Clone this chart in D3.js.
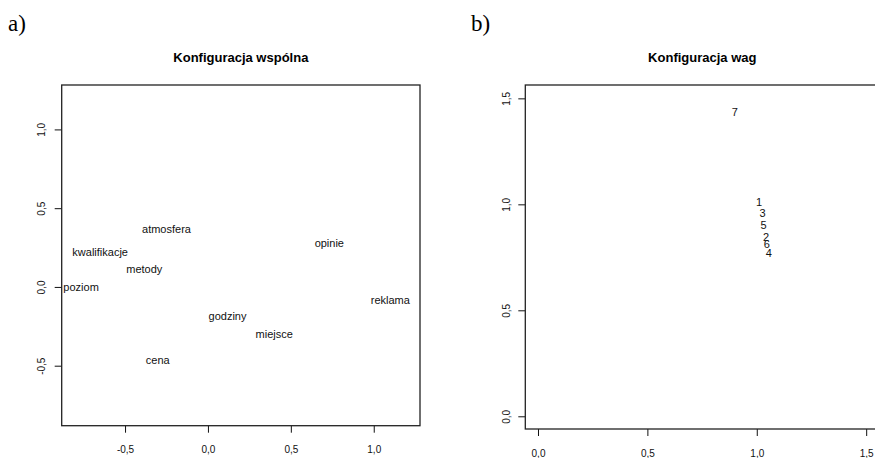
<!DOCTYPE html>
<html>
<head>
<meta charset="utf-8">
<script src="https://cdn.jsdelivr.net/npm/d3@7"></script>
<style>
  body { margin: 0; background: #fff; }
  svg { display: block; font-family: "Liberation Sans", Arial, sans-serif; }
</style>
</head>
<body>
<div id="chart"></div>
<script>
// panel a) common configuration (stimulus space)
const objects = ["atmosfera", "kwalifikacje", "metody", "poziom", "opinie", "reklama", "godziny", "miejsce", "cena"];
const objX = [-0.25, -0.65, -0.384, -0.765, 0.732, 1.10, 0.118, 0.40, -0.303];
const objY = [0.365, 0.218, 0.112, 0.0, 0.276, -0.081, -0.185, -0.297, -0.463];

// panel b) subject weights
const subjects = ["7", "1", "3", "5", "2", "6", "4"];
const wX = [0.90, 1.011, 1.027, 1.031, 1.043, 1.046, 1.055];
const wY = [1.437, 1.008, 0.957, 0.901, 0.843, 0.811, 0.772];

const ticksA = [-0.5, 0, 0.5, 1.0];
const ticksB = [0, 0.5, 1.0, 1.5];

const width = 875, height = 458;
const fmt = d => d3.format(".1f")(d).replace(".", ",").replace("−", "-");

const svg = d3.select("#chart").append("svg")
  .attr("width", width)
  .attr("height", height);

svg.append("rect").attr("width", width).attr("height", height).attr("fill", "#fff");

function drawPanel(cfg) {
  const x = d3.scaleLinear().domain(cfg.xDomain).range([cfg.left, cfg.right]);
  const y = d3.scaleLinear().domain(cfg.yDomain).range([cfg.bottom, cfg.top]);
  const g = svg.append("g");

  // panel letter
  g.append("text")
    .attr("x", cfg.letterX)
    .attr("y", 31)
    .style("font-family", "'Liberation Serif', 'Times New Roman', serif")
    .style("font-size", "23px")
    .text(cfg.letter);

  // title
  g.append("text")
    .attr("x", (cfg.left + cfg.right) / 2)
    .attr("y", 62)
    .attr("text-anchor", "middle")
    .style("font-size", "13px")
    .style("font-weight", "bold")
    .text(cfg.title);

  // x axis
  const xAxis = g.append("g")
    .attr("transform", `translate(0,${cfg.bottom})`)
    .call(d3.axisBottom(x).tickValues(cfg.ticks).tickSize(7).tickFormat(fmt));
  xAxis.select(".domain").remove();
  xAxis.selectAll("line").attr("stroke", "#111");
  xAxis.selectAll("text")
    .attr("y", 24).attr("dy", "0.35em")
    .style("font-size", "10px")
    .style("font-family", "'Liberation Sans', Arial, sans-serif")
    .attr("fill", "#111");

  // y axis, labels turned like R's las = 0
  const yAxis = g.append("g")
    .attr("transform", `translate(${cfg.left},0)`)
    .call(d3.axisLeft(y).tickValues(cfg.ticks).tickSize(7).tickFormat(fmt));
  yAxis.select(".domain").remove();
  yAxis.selectAll("line").attr("stroke", "#111");
  yAxis.selectAll("text")
    .attr("x", null).attr("dy", null)
    .attr("transform", `translate(${-cfg.yLabelOff},0) rotate(-90)`)
    .attr("text-anchor", "middle")
    .attr("dy", "0.35em")
    .style("font-size", "10px")
    .style("font-family", "'Liberation Sans', Arial, sans-serif")
    .attr("fill", "#111");

  // frame
  g.append("rect")
    .attr("x", cfg.left)
    .attr("y", cfg.top)
    .attr("width", cfg.right - cfg.left)
    .attr("height", cfg.bottom - cfg.top)
    .attr("fill", "none")
    .attr("stroke", "#222")
    .attr("stroke-width", 1.3);

  // point labels
  g.selectAll("text.lab")
    .data(cfg.labels)
    .enter()
    .append("text")
    .attr("class", "lab")
    .attr("x", (d, i) => x(cfg.xs[i]))
    .attr("y", (d, i) => y(cfg.ys[i]))
    .attr("dy", "0.35em")
    .attr("text-anchor", "middle")
    .style("font-size", "11px")
    .attr("fill", "#111")
    .text(d => d);
}

drawPanel({
  letter: "a)", letterX: 8,
  title: "Konfiguracja wspólna",
  left: 61.7, right: 420, top: 85, bottom: 425.7,
  xDomain: [-0.882, 1.279], yDomain: [-0.881, 1.282],
  ticks: ticksA, yLabelOff: 20.5,
  labels: objects, xs: objX, ys: objY
});

drawPanel({
  letter: "b)", letterX: 471,
  title: "Konfiguracja wag",
  left: 525.3, right: 879.3, top: 85, bottom: 429,
  xDomain: [-0.058, 1.56], yDomain: [-0.06, 1.563],
  ticks: ticksB, yLabelOff: 18.5,
  labels: subjects, xs: wX, ys: wY
});
</script>
</body>
</html>
